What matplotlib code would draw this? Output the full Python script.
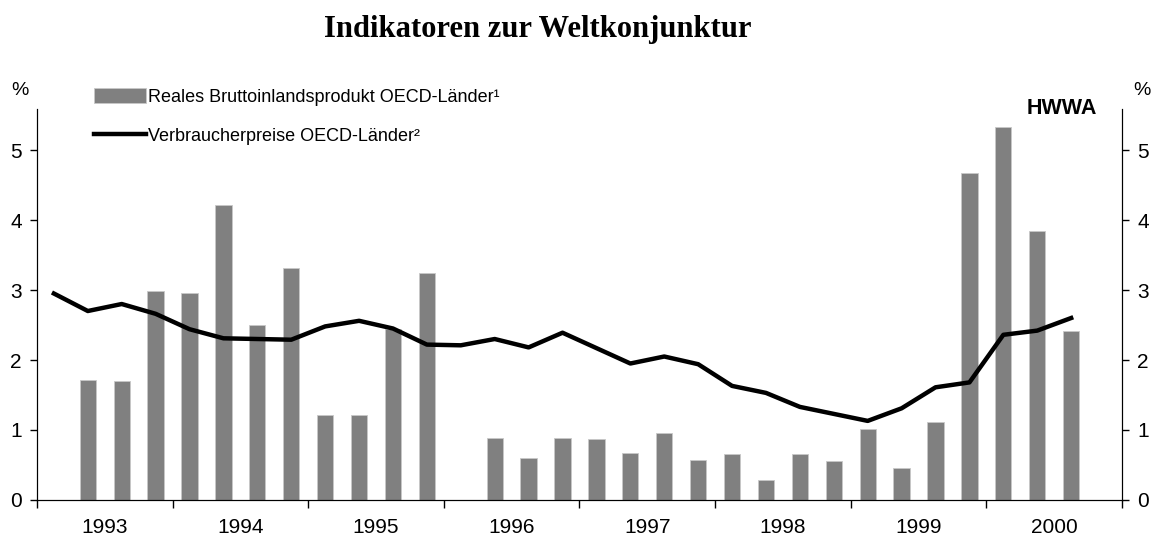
import matplotlib
matplotlib.use("Agg")
import matplotlib.pyplot as plt
import numpy as np

years = ["1993", "1994", "1995", "1996", "1997", "1998", "1999", "2000"]
# quarterly values, 1993 Q1 ... 2000 Q4 (NaN = no value)
gdp = [np.nan, 1.71, 1.70, 2.98, 2.96, 4.22, 2.50, 3.31, 1.22, 1.22, 2.45, 3.24,
       np.nan, 0.89, 0.60, 0.88, 0.87, 0.67, 0.95, 0.57, 0.66, 0.29, 0.66, 0.56,
       1.01, 0.46, 1.11, 4.67, 5.33, 3.85, 2.41, np.nan]
cpi = [2.95, 2.70, 2.80, 2.66, 2.44, 2.31, 2.30, 2.29, 2.48, 2.56, 2.45, 2.22,
       2.21, 2.30, 2.18, 2.39, 2.17, 1.95, 2.05, 1.94, 1.63, 1.53, 1.33, 1.23,
       1.13, 1.31, 1.61, 1.68, 2.36, 2.42, 2.60, np.nan]
yticks = [0, 1, 2, 3, 4, 5]

lbl_gdp = "Reales Bruttoinlandsprodukt OECD-Länder¹"
lbl_cpi = "Verbraucherpreise OECD-Länder²"

plt.rcParams['font.family'] = ['Liberation Sans', 'DejaVu Sans']

fig = plt.figure(figsize=(11.62, 5.41), dpi=100)
ax = fig.add_axes([0.0318, 0.0758, 0.9338, 0.7227])

x = np.arange(len(gdp))
bars = ax.bar(x, gdp, width=0.48, color="#808080", edgecolor="#c8c8c8",
              linewidth=0.6, label=lbl_gdp, zorder=2)
line, = ax.plot(x, cpi, color="black", linewidth=3.2, label=lbl_cpi, zorder=3)

ax.set_xlim(-0.5, len(gdp) - 0.5)
ax.set_ylim(0, 5.586)

# year separators as major ticks, year labels as minor ticks
ax.set_xticks(np.arange(-0.5, len(gdp), 4))
ax.set_xticklabels([])
ax.set_xticks(np.arange(1.5, len(gdp), 4), minor=True)
ax.set_xticklabels(years, minor=True, fontsize=15)
ax.tick_params(axis='x', which='major', length=6, direction='out', width=1)
ax.tick_params(axis='x', which='minor', length=0, pad=13)

ax.set_yticks(yticks)
ax.set_yticklabels([str(v) for v in yticks], fontsize=15)
ax.tick_params(axis='y', length=5, width=1, pad=6)

ax.spines['top'].set_visible(False)
ax2 = ax.twinx()
ax2.set_ylim(ax.get_ylim())
ax2.set_yticks(yticks)
ax2.set_yticklabels([str(v) for v in yticks], fontsize=15)
ax2.tick_params(axis='y', length=5, width=1, pad=6)
ax2.spines['top'].set_visible(False)

fig.text(0.463, 0.945, "Indikatoren zur Weltkonjunktur", ha='center', va='center',
         fontsize=22, fontweight='bold', family=['Liberation Serif', 'DejaVu Serif'])
fig.text(0.010, 0.832, "%", fontsize=14, ha='left', va='center')
fig.text(0.975, 0.832, "%", fontsize=14, ha='left', va='center')
fig.text(0.944, 0.800, "HWWA", fontsize=15.5, fontweight='bold', ha='right', va='center')

leg = ax.legend(handles=[bars, line], loc='upper left', bbox_to_anchor=(0.046, 1.071),
                frameon=False, fontsize=13, handlelength=2.9, handleheight=0.85,
                handletextpad=0.1, labelspacing=1.2, borderaxespad=0)

fig.savefig("out.png", dpi=100)
